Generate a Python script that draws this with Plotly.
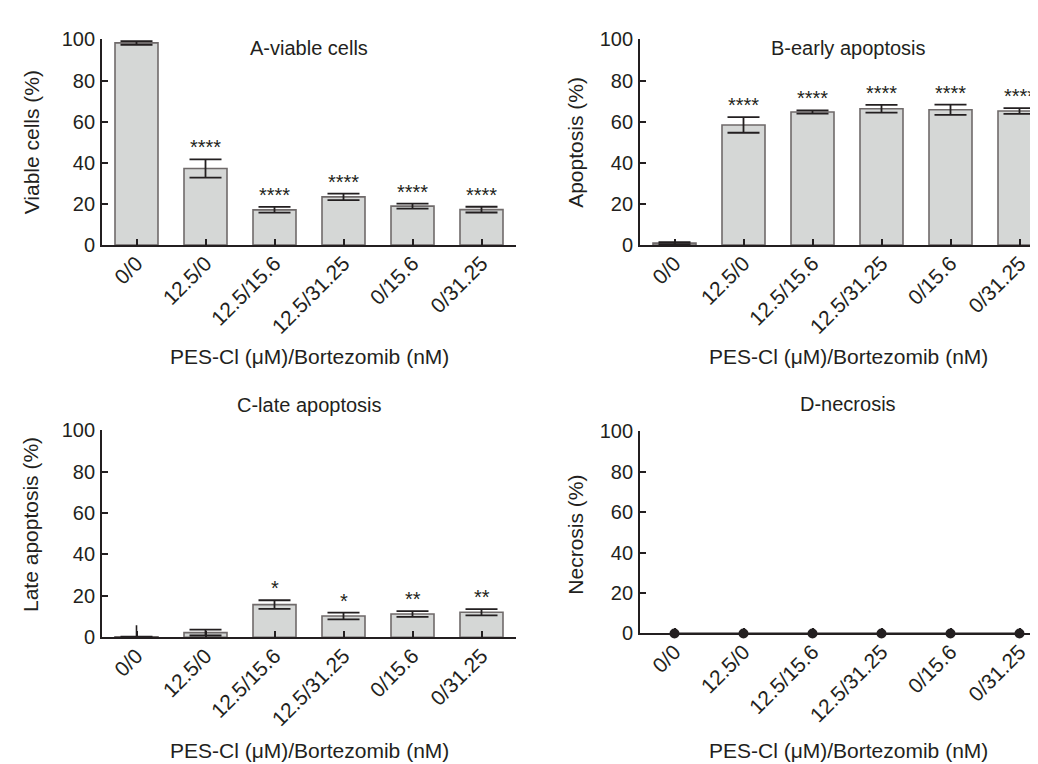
import plotly.graph_objects as go

W, H = 1038, 764

categories = ["0/0", "12.5/0", "12.5/15.6", "12.5/31.25", "0/15.6", "0/31.25"]

viable_vals = [98.3, 37.2, 17.1, 23.4, 18.9, 17.2]
viable_err = [0.9, 4.4, 1.4, 1.6, 1.2, 1.4]
viable_sig = ["", "****", "****", "****", "****", "****"]

early_vals = [0.9, 58.4, 64.7, 66.3, 65.8, 65.2]
early_err = [0.5, 3.8, 0.8, 1.9, 2.5, 1.4]
early_sig = ["", "****", "****", "****", "****", "****"]

late_vals = [0.3, 2.3, 15.8, 10.3, 11.3, 12.1]
late_err = [0.0, 1.4, 2.1, 1.6, 1.4, 1.5]
late_sig = ["", "", "*", "*", "**", "**"]

necrosis_vals = [0, 0, 0, 0, 0, 0]

panel_titles = ["A-viable cells", "B-early apoptosis", "C-late apoptosis", "D-necrosis"]
y_titles = ["Viable cells (%)", "Apoptosis (%)", "Late apoptosis (%)", "Necrosis (%)"]
x_title = "PES-Cl (\u03bcM)/Bortezomib (nM)"
y_ticks = [0, 20, 40, 60, 80, 100]

DARK = "#231f20"
FILL = "#d5d7d6"
EDGE = "#6f6a6a"
FONT = "Arial, Liberation Sans, sans-serif"


def px_x(p):
    return p / W


def px_y(p):
    return 1 - p / H


# panel geometry (pixels)
left_x = (94, 508)
right_x = (632, 1038)
top_y = (21, 232.7)
botL_y = (423.3, 636.7)
botR_y = (424.3, 632.7)
step = 69.0

panels = [
    dict(xd=left_x, yd=top_y),
    dict(xd=right_x, yd=top_y),
    dict(xd=left_x, yd=botL_y),
    dict(xd=right_x, yd=botR_y),
]

fig = go.Figure()

bar_sets = [(viable_vals, viable_err, viable_sig),
            (early_vals, early_err, early_sig),
            (late_vals, late_err, late_sig)]

for i, (vals, errs, sig) in enumerate(bar_sets):
    ax = "" if i == 0 else str(i + 1)
    fig.add_trace(go.Bar(
        x=categories, y=vals, xaxis="x" + ax, yaxis="y" + ax,
        marker=dict(color=FILL, line=dict(color=EDGE, width=1.6)),
        width=43 / step,
        error_y=dict(type="data", array=errs, color=DARK, thickness=1.8, width=16, visible=True),
        hoverinfo="skip",
    ))
    for c, v, e, s in zip(categories, vals, errs, sig):
        if s:
            fig.add_annotation(x=c, y=v + e, xref="x" + ax, yref="y" + ax,
                               text=s, showarrow=False, yanchor="bottom", yshift=-1,
                               font=dict(family=FONT, size=20, color=DARK))

# extra thin error whisker for first late-apoptosis bar
fig.add_trace(go.Scatter(
    x=[categories[0]], y=[late_vals[0]], xaxis="x3", yaxis="y3", mode="markers",
    marker=dict(size=1, color="rgba(0,0,0,0)"),
    error_y=dict(type="data", symmetric=False, array=[5.5], arrayminus=[0],
                 color=DARK, thickness=1.6, width=0),
    hoverinfo="skip",
))

fig.add_trace(go.Scatter(
    x=categories, y=necrosis_vals, xaxis="x4", yaxis="y4", mode="lines+markers",
    line=dict(color=DARK, width=2), marker=dict(color=DARK, size=10),
    cliponaxis=False, hoverinfo="skip",
))

layout = dict(
    width=W, height=H, margin=dict(l=0, r=0, t=0, b=0),
    paper_bgcolor="white", plot_bgcolor="white", showlegend=False,
    font=dict(family=FONT, color=DARK),
)

for i, p in enumerate(panels):
    ax = "" if i == 0 else str(i + 1)
    x0, x1 = p["xd"]
    n_units = (x1 - x0) / step
    layout["xaxis" + ax] = dict(
        domain=[px_x(x0), px_x(x1)], anchor="y" + ax,
        type="category", categoryorder="array", categoryarray=categories,
        range=[-0.5, -0.5 + n_units],
        showline=True, linecolor=DARK, linewidth=1.8,
        ticks="inside", ticklen=6, tickwidth=1.6, tickcolor=DARK,
        tickangle=-45, tickfont=dict(family=FONT, size=21, color=DARK),
        ticklabelstandoff=-4,
        showgrid=False, zeroline=False, fixedrange=True,
    )
    y0, y1 = p["yd"]
    layout["yaxis" + ax] = dict(
        domain=[px_y(y1), px_y(y0)], anchor="x" + ax,
        range=[0, 100], tickvals=y_ticks,
        showline=True, linecolor=DARK, linewidth=1.8,
        ticks="inside", ticklen=6, tickwidth=1.6, tickcolor=DARK,
        tickfont=dict(family=FONT, size=20, color=DARK), ticklabelstandoff=1,
        showgrid=False, zeroline=False, fixedrange=True,
    )

fig.update_layout(**layout)

# panel titles
title_pos = [(301, 30), (840, 30), (301, 397), (840, 396)]
for t, (x, y) in zip(panel_titles, title_pos):
    fig.add_annotation(x=px_x(x), y=px_y(y), xref="paper", yref="paper", text=t,
                       showarrow=False, xanchor="center", yanchor="middle",
                       font=dict(family=FONT, size=20, color=DARK))

# y-axis titles
ytitle_pos = [(23, 127), (568, 127.5), (23, 521), (568, 531)]
for t, (x, y) in zip(y_titles, ytitle_pos):
    fig.add_annotation(x=px_x(x), y=px_y(y), xref="paper", yref="paper", text=t,
                       showarrow=False, textangle=-90, xanchor="center", yanchor="middle",
                       font=dict(family=FONT, size=21, color=DARK))

# x-axis titles
xtitle_pos = [(301, 348), (840, 348), (301, 753), (840, 753)]
for (x, y) in xtitle_pos:
    fig.add_annotation(x=px_x(x), y=px_y(y), xref="paper", yref="paper", text=x_title,
                       showarrow=False, xanchor="center", yanchor="middle",
                       font=dict(family=FONT, size=21, color=DARK))

fig.write_html("out.html")
